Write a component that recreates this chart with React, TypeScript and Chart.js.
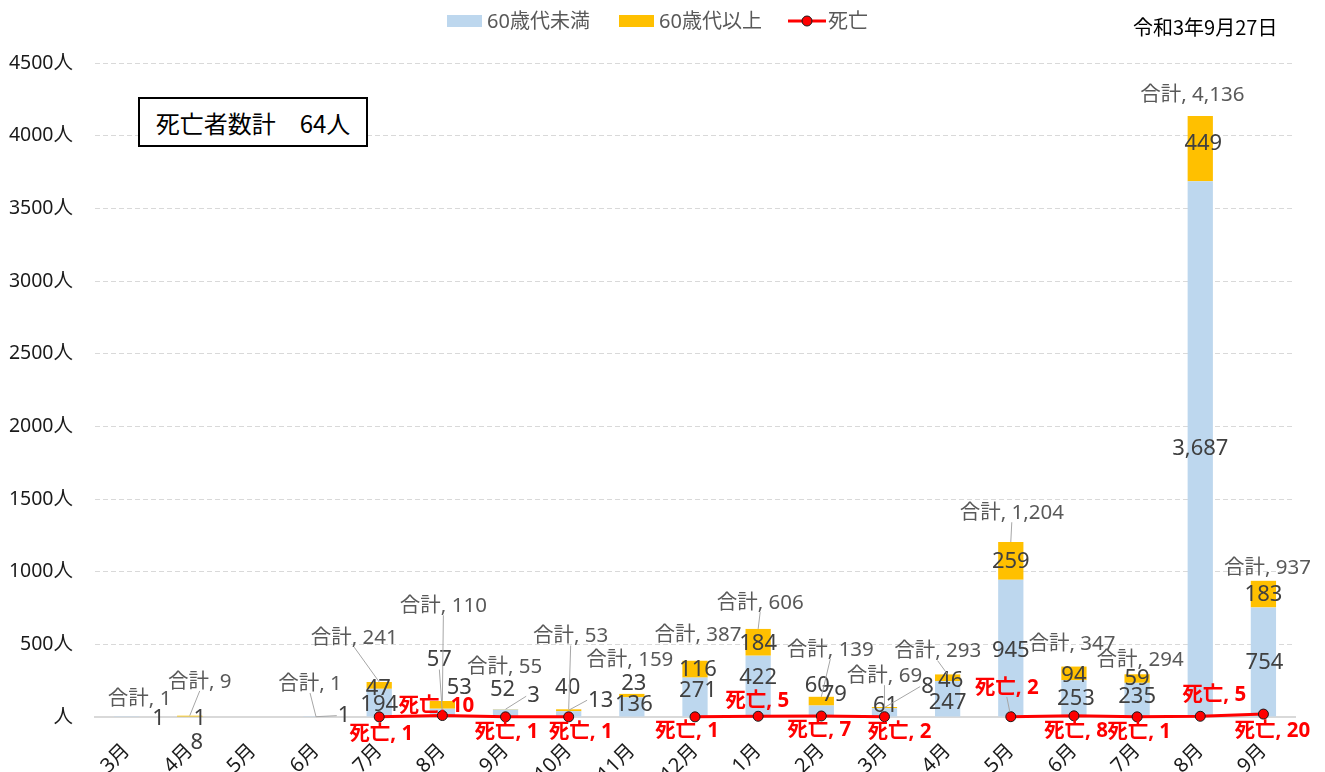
import { useEffect, useRef } from "react";
import { Chart, registerables } from "chart.js";

Chart.register(...registerables);

// ---- data ----
const months = ["3月", "4月", "5月", "6月", "7月", "8月", "9月", "10月", "11月", "12月", "1月", "2月", "3月", "4月", "5月", "6月", "7月", "8月", "9月"];
const under60 = [1, 1, 0, 1, 194, 57, 52, 40, 136, 271, 422, 79, 61, 247, 945, 253, 235, 3687, 754];
const over60 = [0, 8, 0, 0, 47, 53, 3, 13, 23, 116, 184, 60, 8, 46, 259, 94, 59, 449, 183];
const deaths: (number | null)[] = [null, null, null, null, 1, 10, 1, 1, null, 1, 5, 7, 2, null, 2, 8, 1, 5, 20];
const yMin = 0;
const yMax = 4500;
const yStep = 500;
const yUnit = "人";
const seriesNames = ["60歳代未満", "60歳代以上", "死亡"];
const totalPrefix = "合計";
const deathPrefix = "死亡";
const reportDate = "令和3年9月27日";
const deathTotalCaption = "死亡者数計";

// ---- label placement (pixel nudges, like manually moved Excel labels) ----
const under60Off: [number, number][] = [[32, 2], [10, 2], [0, 0], [28, -1], [0, 2], [-3, -53], [-3, -23], [-1, -26], [2, -2], [3, -6], [0, -8], [13, -16], [1, -7], [0, 4], [0, 3], [2, 0], [0, -3], [0, 0], [1, 1]];
const over60Off: [number, number][] = [[0, 0], [7, 26], [0, 0], [0, 0], [-1, 3], [17, -17], [28, -13], [32, -10], [2, -12], [3, 1], [0, 1], [-4, -15], [43, -21], [3, 3], [0, 1], [0, 2], [0, 0], [3, -5], [0, 1]];
const totalOff: [number, number][] = [[13, 6], [10, -10], [0, 0], [-6, -9], [-25, -20], [1, -71], [-1, -18], [2, -49], [-2, -10], [3, -2], [2, -2], [9, -23], [0, -7], [-10, 1], [1, -5], [-2, 2], [3, 10], [-8, 3], [4, 11]];
const deathOff: [number, number][] = [[0, 0], [0, 0], [0, 0], [0, 0], [2, -2], [-6, -28], [1, -4], [12, -4], [0, 0], [-8, -5], [-1, -34], [-2, -5], [15, -4], [0, 0], [-4, -48], [2, -4], [2, -4], [14, -40], [9, -2]];
const totalLeaders = [1, 3, 4, 5, 7, 10, 11, 12, 13, 14];
const under60Leaders = [3, 5];
const over60Leaders = [6, 7, 12];
const deathLeaders = [14];

const FONT = '"Noto Sans", "Noto Sans CJK JP", sans-serif';
const CJK = '"Noto Sans CJK JP", "Noto Sans", sans-serif';

const fmt = (n: number) => n.toLocaleString("en-US");

function leaderStart(ctx: CanvasRenderingContext2D, text: string, cx: number, cy: number, size: number, ax: number, ay: number) {
  const w = ctx.measureText(text).width;
  const h = size * 0.9;
  const l = cx - w / 2 - 1, r = cx + w / 2 + 1, t = cy - h / 2, b = cy + h / 2;
  if (ax >= l && ax <= r && ay >= t && ay <= b) return null;
  if (ay > b && Math.abs(ax - cx) < (ay - b) * 1.5) return [cx, b];
  if (ay < t && Math.abs(ax - cx) < (t - ay) * 1.5) return [cx, t];
  if (ax < l) return [l, cy];
  return [r, cy];
}

function drawLeader(ctx: CanvasRenderingContext2D, s: number[] | null, ax: number, ay: number, shorten = 0) {
  if (!s) return;
  let ex = ax, ey = ay;
  if (shorten > 0) {
    const dx = ax - s[0], dy = ay - s[1];
    const d = Math.hypot(dx, dy);
    if (d <= shorten) return;
    ex = ax - (dx / d) * shorten;
    ey = ay - (dy / d) * shorten;
  }
  ctx.save();
  ctx.strokeStyle = "#A6A6A6";
  ctx.lineWidth = 1;
  ctx.beginPath();
  ctx.moveTo(s[0], s[1]);
  ctx.lineTo(ex, ey);
  ctx.stroke();
  ctx.restore();
}

const labelPlugin = {
  id: "customLabels",
  afterDraw(chart: any) {
    const ctx: CanvasRenderingContext2D = chart.ctx;
    const m0 = chart.getDatasetMeta(0);
    const m1 = chart.getDatasetMeta(1);
    const m2 = chart.getDatasetMeta(2);
    const ys = chart.scales.y;
    ctx.save();
    ctx.textAlign = "center";
    ctx.textBaseline = "middle";

    // segment labels
    const segSize = 22;
    ctx.font = `${segSize}px ${FONT}`;
    for (let i = 0; i < months.length; i++) {
      const b0 = m0.data[i];
      const b1 = m1.data[i];
      if (under60[i] > 0) {
        const t = fmt(under60[i]);
        const cx = b0.x + under60Off[i][0];
        const cy = (b0.y + b0.base) / 2 + under60Off[i][1];
        if (under60Leaders.includes(i)) drawLeader(ctx, leaderStart(ctx, t, cx, cy, segSize, b0.x, (b0.y + b0.base) / 2), b0.x, (b0.y + b0.base) / 2);
        ctx.fillStyle = "#404040";
        ctx.fillText(t, cx, cy);
      }
      if (over60[i] > 0) {
        const t = fmt(over60[i]);
        const ay = (b1.y + b1.base) / 2;
        const cx = b1.x + over60Off[i][0];
        const cy = ay + over60Off[i][1];
        if (over60Leaders.includes(i)) drawLeader(ctx, leaderStart(ctx, t, cx, cy, segSize, b1.x, ay), b1.x, ay);
        ctx.fillStyle = "#404040";
        ctx.fillText(t, cx, cy);
      }
    }

    // totals
    const totSize = 20.5;
    ctx.font = `${totSize}px ${FONT}`;
    for (let i = 0; i < months.length; i++) {
      const total = under60[i] + over60[i];
      if (total <= 0) continue;
      const x = m0.data[i].x;
      const top = ys.getPixelForValue(total);
      const t = `${totalPrefix}, ${fmt(total)}`;
      const cx = x + totalOff[i][0];
      const cy = top - 24 + totalOff[i][1];
      if (totalLeaders.includes(i)) drawLeader(ctx, leaderStart(ctx, t, cx, cy, totSize, x, top), x, top);
      ctx.fillStyle = "#595959";
      ctx.fillText(t, cx, cy);
    }

    // death labels
    const dSize = 20.5;
    ctx.font = `bold ${dSize}px ${FONT}`;
    for (let i = 0; i < months.length; i++) {
      const d = deaths[i];
      if (d === null) continue;
      const p = m2.data[i];
      const t = `${deathPrefix}, ${d}`;
      const cx = p.x + deathOff[i][0];
      const cy = p.y + 19 + deathOff[i][1];
      if (deathLeaders.includes(i)) drawLeader(ctx, leaderStart(ctx, t, cx, cy, dSize, p.x, p.y), p.x, p.y, 5);
      ctx.fillStyle = "#FF0000";
      ctx.fillText(t, cx, cy);
    }

    // legend
    const ds = chart.data.datasets;
    const starts = [447, 619, 788];
    const ly = 21;
    ctx.font = `20px ${FONT}`;
    ctx.textAlign = "left";
    ds.forEach((d: any, i: number) => {
      const x = starts[i];
      if (d.type === "line") {
        ctx.strokeStyle = d.borderColor;
        ctx.lineWidth = 3;
        ctx.beginPath();
        ctx.moveTo(x, ly);
        ctx.lineTo(x + 38, ly);
        ctx.stroke();
        ctx.beginPath();
        ctx.arc(x + 19, ly, 5, 0, Math.PI * 2);
        ctx.fillStyle = d.pointBackgroundColor;
        ctx.fill();
        ctx.lineWidth = 1;
        ctx.strokeStyle = d.pointBorderColor;
        ctx.stroke();
      } else {
        ctx.fillStyle = d.backgroundColor;
        ctx.fillRect(x, ly - 6, 35, 12);
      }
      ctx.fillStyle = "#595959";
      ctx.fillText(d.label, x + 40, ly + 1);
    });
    ctx.restore();
  },
};

export default function App() {
  const ref = useRef<HTMLCanvasElement | null>(null);
  useEffect(() => {
    if (!ref.current) return;
    Chart.defaults.font.family = FONT;
    const chart = new Chart(ref.current, {
      type: "bar",
      data: {
        labels: months,
        datasets: [
          { type: "bar", label: seriesNames[0], data: under60, backgroundColor: "#BDD7EE", stack: "cases", order: 1, barPercentage: 0.4, categoryPercentage: 1 },
          { type: "bar", label: seriesNames[1], data: over60, backgroundColor: "#FFC000", stack: "cases", order: 1, barPercentage: 0.4, categoryPercentage: 1 },
          {
            type: "line", label: seriesNames[2], data: deaths, borderColor: "#FF0000", backgroundColor: "#FF0000",
            borderWidth: 3, pointRadius: 5, pointBackgroundColor: "#FF0000", pointBorderColor: "#1a1a1a", pointBorderWidth: 1,
            spanGaps: false, stack: "deaths", order: 0, clip: false, tension: 0,
          } as any,
        ],
      },
      options: {
        responsive: false,
        animation: false,
        events: [],
        layout: { padding: { left: 0, right: 30, top: 63, bottom: 0 } },
        plugins: { legend: { display: false }, tooltip: { enabled: false }, title: { display: false } },
        scales: {
          x: {
            stacked: true,
            grid: { display: false },
            border: { display: true, color: "#D9D9D9", width: 2 },
            ticks: { autoSkip: false, maxRotation: 45, minRotation: 45, padding: 14, color: "#1a1a1a", font: { size: 20 } },
            afterFit: (s: any) => { s.height = 55; },
          },
          y: {
            stacked: true,
            min: yMin,
            max: yMax,
            ticks: {
              stepSize: yStep, padding: 22, color: "#1a1a1a", font: { size: 19.5 },
              callback: (v: any) => (Number(v) === 0 ? "" : String(v)) + yUnit,
            },
            grid: { color: (c: any) => (c.tick && c.tick.value === 0 ? "rgba(0,0,0,0)" : "#D9D9D9"), drawTicks: false, lineWidth: 1 },
            border: { display: false, dash: [5, 3] },
            afterFit: (s: any) => { s.width = 95; },
          },
        },
      } as any,
      plugins: [labelPlugin],
    });
    return () => chart.destroy();
  }, []);

  const deathSum = deaths.reduce<number>((a, b) => a + (b ?? 0), 0);

  return (
    <div style={{ position: "absolute", left: 0, top: 0, width: 1325, height: 772, overflow: "hidden", background: "#fff" }}>
      <canvas ref={ref} width={1325} height={772} style={{ display: "block", position: "absolute", left: 0, top: 0 }} />
      <div style={{ position: "absolute", left: 1133, top: 13, fontFamily: CJK, fontSize: 20, lineHeight: "28px", color: "#000", whiteSpace: "nowrap" }}>
        {reportDate}
      </div>
      <div
        style={{
          position: "absolute", left: 138, top: 97, width: 230, height: 50, boxSizing: "border-box",
          border: "2px solid #000", background: "#fff", display: "flex", alignItems: "center", justifyContent: "center",
          fontFamily: CJK, fontSize: 24, color: "#000", whiteSpace: "nowrap",
        }}
      >
        {`${deathTotalCaption}　${deathSum}${yUnit}`}
      </div>
    </div>
  );
}
